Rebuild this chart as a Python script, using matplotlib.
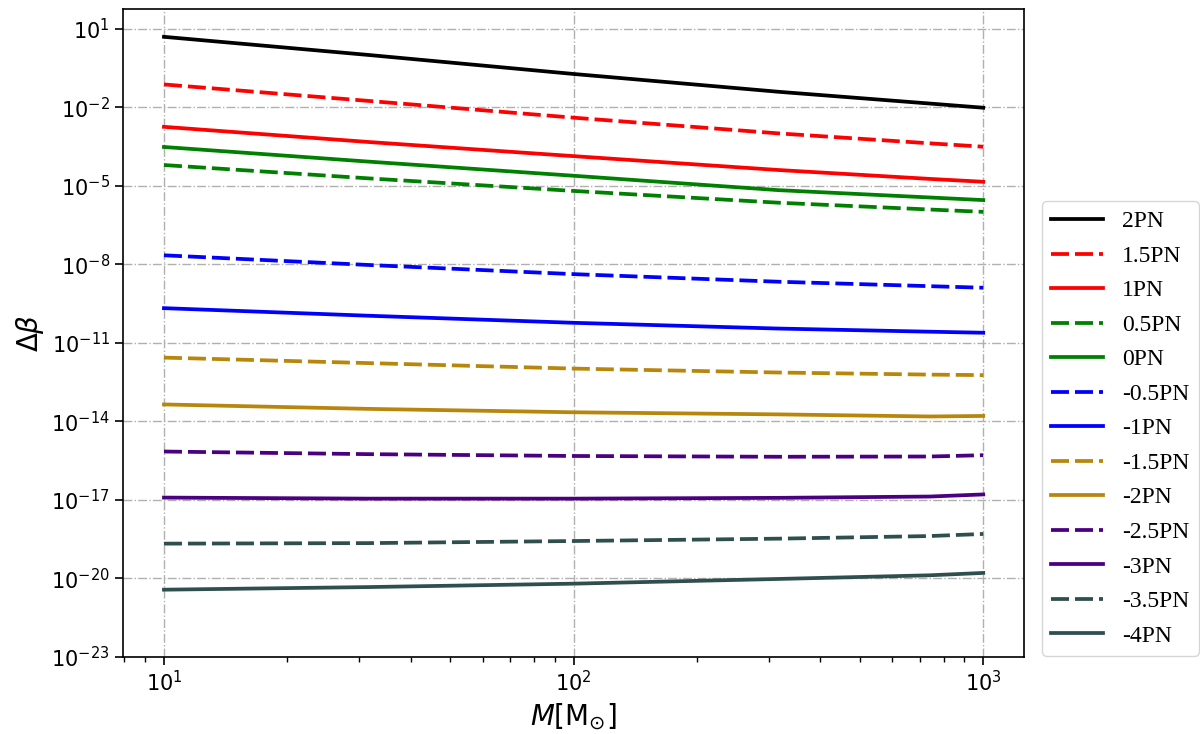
import numpy as np
import matplotlib
matplotlib.use("Agg")
import matplotlib.pyplot as plt
from matplotlib.ticker import FixedLocator, NullLocator, LogFormatterMathtext

# total mass (solar masses) where the curves were read
mass = [10, 31.6, 100, 316, 740, 1000]

# log10(delta beta) for each PN order
labels = ["2PN", "1.5PN", "1PN", "0.5PN", "0PN", "-0.5PN", "-1PN",
          "-1.5PN", "-2PN", "-2.5PN", "-3PN", "-3.5PN", "-4PN"]
log_db = [
    [0.70, 0.006, -0.72, -1.40, -1.85, -2.01],
    [-1.12, -1.75, -2.39, -2.99, -3.37, -3.50],
    [-2.74, -3.32, -3.86, -4.39, -4.73, -4.84],
    [-4.20, -4.71, -5.19, -5.64, -5.90, -5.99],
    [-3.51, -4.07, -4.61, -5.16, -5.44, -5.54],
    [-7.65, -8.02, -8.37, -8.66, -8.83, -8.89],
    [-9.67, -9.96, -10.23, -10.45, -10.57, -10.61],
    [-11.56, -11.77, -11.98, -12.13, -12.21, -12.23],
    [-13.35, -13.52, -13.65, -13.73, -13.81, -13.79],
    [-15.15, -15.25, -15.32, -15.35, -15.34, -15.29],
    [-16.91, -16.95, -16.95, -16.92, -16.87, -16.79],
    [-18.67, -18.65, -18.57, -18.48, -18.38, -18.30],
    [-20.43, -20.33, -20.20, -20.02, -19.88, -19.79],
]
colors = ["black", "red", "red", "green", "green", "blue", "blue",
          "darkgoldenrod", "darkgoldenrod", "indigo", "indigo",
          "darkslategray", "darkslategray"]
styles = ["-", "--", "-", "--", "-", "--", "-", "--", "-", "--", "-", "--", "-"]

ytick_exp = [1, -2, -5, -8, -11, -14, -17, -20, -23]

fig = plt.figure(figsize=(12, 7.34), dpi=100)
ax = fig.add_axes([0.1025, 0.105, 0.751, 0.8825])

lines = []
for lab, vals, c, ls in zip(labels, log_db, colors, styles):
    y = 10.0 ** np.array(vals)
    if ls == "--":
        ln, = ax.plot(mass, y, color=c, lw=2.7, linestyle=(0, (4.8, 1.6)), label=lab)
    else:
        ln, = ax.plot(mass, y, color=c, lw=2.7, label=lab)
    lines.append(ln)

ax.set_xscale("log")
ax.set_yscale("log")
ax.set_ylim(bottom=1e-23)

ax.yaxis.set_major_locator(FixedLocator([10.0 ** e for e in ytick_exp]))
ax.yaxis.set_major_formatter(LogFormatterMathtext())
ax.yaxis.set_minor_locator(NullLocator())

ax.grid(True, which="major", color="#b0b0b0", linestyle="-.", linewidth=1.0)
ax.tick_params(axis="both", which="major", labelsize=15, length=6, width=1.2)
ax.tick_params(axis="both", which="minor", length=3.5, width=1.0)
for sp in ax.spines.values():
    sp.set_linewidth(1.2)

ax.set_xlabel(r"$M[\mathrm{M}_{\odot}]$", fontsize=20)
ax.set_ylabel(r"$\Delta\beta$", fontsize=20)

fig.legend(handles=lines, loc="lower left",
           bbox_to_anchor=(1042 / 1200, 1 - 656 / 734),
           bbox_transform=fig.transFigure, borderaxespad=0,
           prop={"family": "Liberation Serif", "size": 17},
           handlelength=2.2, labelspacing=0.55)

fig.savefig("out.png", dpi=100)
